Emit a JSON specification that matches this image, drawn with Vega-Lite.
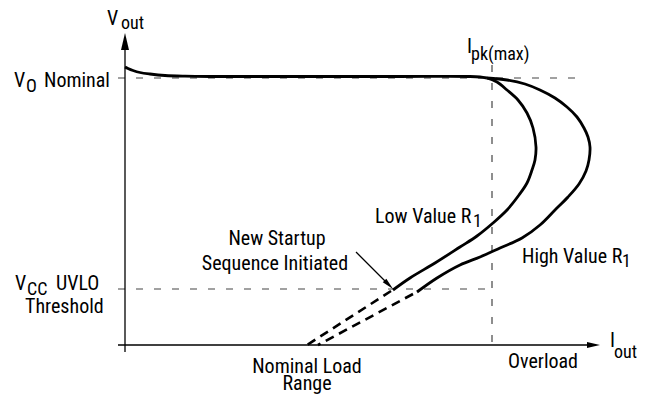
{
  "$schema": "https://vega.github.io/schema/vega-lite/v6.json",
  "width": 647,
  "height": 396,
  "padding": 0,
  "autosize": {"type": "fit", "contains": "padding"},
  "config": {"view": {"stroke": null}, "text": {"font": "Roboto Condensed, Liberation Sans, sans-serif", "color": "#000000"}},
  "datasets": {
    "lines": [
      {"series": "ref_vo", "i": 0, "I": -7, "V": 267},
      {"series": "ref_vo", "i": 1, "I": 460, "V": 267},
      {"series": "ref_uvlo", "i": 0, "I": -7, "V": 56},
      {"series": "ref_uvlo", "i": 1, "I": 370, "V": 56},
      {"series": "ref_ipk", "i": 0, "I": 367, "V": 280},
      {"series": "ref_ipk", "i": 1, "I": 367, "V": -7},
      {"series": "axis_x", "i": 0, "I": -7, "V": 0},
      {"series": "axis_x", "i": 1, "I": 465, "V": 0},
      {"series": "axis_y", "i": 0, "I": 0, "V": -7},
      {"series": "axis_y", "i": 1, "I": 0, "V": 296},
      {"series": "pointer", "i": 0, "I": 231, "V": 93},
      {"series": "pointer", "i": 1, "I": 264, "V": 60},
      {"series": "main", "i": 0, "I": 0, "V": 278},
      {"series": "main", "i": 1, "I": 3, "V": 276.5},
      {"series": "main", "i": 2, "I": 8, "V": 274.5},
      {"series": "main", "i": 3, "I": 15, "V": 272.5},
      {"series": "main", "i": 4, "I": 25, "V": 271},
      {"series": "main", "i": 5, "I": 40, "V": 269.5},
      {"series": "main", "i": 6, "I": 60, "V": 268.8},
      {"series": "main", "i": 7, "I": 85, "V": 268.5},
      {"series": "main", "i": 8, "I": 175, "V": 268.5},
      {"series": "main", "i": 9, "I": 275, "V": 268.5},
      {"series": "main", "i": 10, "I": 345, "V": 268.5},
      {"series": "main", "i": 11, "I": 355, "V": 268},
      {"series": "main", "i": 12, "I": 362, "V": 267},
      {"series": "low", "i": 0, "I": 362, "V": 267},
      {"series": "low", "i": 1, "I": 372, "V": 263},
      {"series": "low", "i": 2, "I": 382, "V": 255},
      {"series": "low", "i": 3, "I": 393, "V": 245},
      {"series": "low", "i": 4, "I": 402, "V": 232},
      {"series": "low", "i": 5, "I": 408, "V": 217},
      {"series": "low", "i": 6, "I": 411, "V": 198},
      {"series": "low", "i": 7, "I": 410, "V": 185},
      {"series": "low", "i": 8, "I": 407, "V": 175},
      {"series": "low", "i": 9, "I": 402, "V": 162},
      {"series": "low", "i": 10, "I": 394, "V": 150},
      {"series": "low", "i": 11, "I": 382, "V": 135},
      {"series": "low", "i": 12, "I": 368, "V": 122},
      {"series": "low", "i": 13, "I": 352, "V": 109},
      {"series": "low", "i": 14, "I": 335, "V": 98},
      {"series": "low", "i": 15, "I": 310, "V": 82},
      {"series": "low", "i": 16, "I": 285, "V": 67},
      {"series": "low", "i": 17, "I": 268, "V": 55},
      {"series": "high", "i": 0, "I": 362, "V": 267},
      {"series": "high", "i": 1, "I": 382, "V": 265},
      {"series": "high", "i": 2, "I": 400, "V": 261},
      {"series": "high", "i": 3, "I": 415, "V": 255},
      {"series": "high", "i": 4, "I": 430, "V": 247},
      {"series": "high", "i": 5, "I": 442, "V": 238},
      {"series": "high", "i": 6, "I": 452, "V": 228},
      {"series": "high", "i": 7, "I": 459, "V": 217},
      {"series": "high", "i": 8, "I": 463, "V": 208},
      {"series": "high", "i": 9, "I": 465, "V": 198},
      {"series": "high", "i": 10, "I": 464, "V": 185},
      {"series": "high", "i": 11, "I": 461, "V": 174},
      {"series": "high", "i": 12, "I": 454, "V": 161},
      {"series": "high", "i": 13, "I": 443, "V": 148},
      {"series": "high", "i": 14, "I": 430, "V": 135},
      {"series": "high", "i": 15, "I": 415, "V": 120},
      {"series": "high", "i": 16, "I": 397, "V": 107},
      {"series": "high", "i": 17, "I": 375, "V": 97},
      {"series": "high", "i": 18, "I": 355, "V": 88},
      {"series": "high", "i": 19, "I": 335, "V": 80},
      {"series": "high", "i": 20, "I": 312, "V": 67},
      {"series": "high", "i": 21, "I": 292, "V": 53},
      {"series": "ext_low", "i": 0, "I": 266, "V": 54},
      {"series": "ext_low", "i": 1, "I": 182, "V": 0},
      {"series": "ext_high", "i": 0, "I": 288, "V": 51},
      {"series": "ext_high", "i": 1, "I": 193, "V": 0}
    ],
    "arrows": [
      {"arrow": "y_axis", "I": 0, "V": 303.5},
      {"arrow": "x_axis", "I": 468.5, "V": 0},
      {"arrow": "pointer", "I": 263.8, "V": 60.2}
    ],
    "labels": [
      {"text": "V", "kind": "main", "I": -18, "V": 320},
      {"text": "out", "kind": "sub", "I": -4, "V": 316},
      {"text": "V", "kind": "main", "I": -111, "V": 258},
      {"text": "O", "kind": "sub", "I": -99, "V": 253},
      {"text": "Nominal", "kind": "main", "I": -81, "V": 258},
      {"text": "V", "kind": "main", "I": -110, "V": 55},
      {"text": "CC", "kind": "sub", "I": -98, "V": 50},
      {"text": "UVLO", "kind": "main", "I": -69, "V": 55},
      {"text": "Threshold", "kind": "main", "I": -100, "V": 32},
      {"text": "I", "kind": "main", "I": 342, "V": 292},
      {"text": "pk(max)", "kind": "sub", "I": 346, "V": 285},
      {"text": "Low Value R", "kind": "main", "I": 250, "V": 122},
      {"text": "1", "kind": "sub", "I": 348, "V": 118},
      {"text": "High Value R", "kind": "main", "I": 397, "V": 82},
      {"text": "1", "kind": "sub", "I": 497, "V": 78},
      {"text": "New Startup", "kind": "center", "I": 152, "V": 100},
      {"text": "Sequence Initiated", "kind": "center", "I": 150, "V": 75},
      {"text": "Nominal Load", "kind": "center", "I": 182, "V": -28},
      {"text": "Range", "kind": "center", "I": 182, "V": -45},
      {"text": "Overload", "kind": "center", "I": 418, "V": -23},
      {"text": "I", "kind": "main", "I": 485, "V": -2},
      {"text": "out", "kind": "sub", "I": 489, "V": -13}
    ]
  },
  "encoding": {
    "x": {"field": "I", "type": "quantitative", "scale": {"domain": [-125, 522], "nice": false, "zero": false}, "axis": null},
    "y": {"field": "V", "type": "quantitative", "scale": {"domain": [-51, 345], "nice": false, "zero": false}, "axis": null}
  },
  "layer": [
    {
      "data": {"name": "lines"},
      "transform": [{"filter": {"field": "series", "oneOf": ["ref_vo", "ref_uvlo", "ref_ipk"]}}],
      "mark": {"type": "line", "color": "#444444", "strokeWidth": 1.2, "strokeDash": [7, 11]},
      "encoding": {"detail": {"field": "series"}, "order": {"field": "i"}}
    },
    {
      "data": {"name": "lines"},
      "transform": [{"filter": {"field": "series", "oneOf": ["axis_x", "axis_y", "pointer"]}}],
      "mark": {"type": "line", "color": "#000000", "strokeWidth": 1.3},
      "encoding": {"detail": {"field": "series"}, "order": {"field": "i"}}
    },
    {
      "data": {"name": "lines"},
      "transform": [{"filter": {"field": "series", "oneOf": ["main", "low", "high"]}}],
      "mark": {"type": "line", "color": "#000000", "strokeWidth": 2.8, "interpolate": "catmull-rom"},
      "encoding": {"detail": {"field": "series"}, "order": {"field": "i"}}
    },
    {
      "data": {"name": "lines"},
      "transform": [{"filter": {"field": "series", "oneOf": ["ext_low", "ext_high"]}}],
      "mark": {"type": "line", "color": "#000000", "strokeWidth": 2.6, "strokeDash": [9, 6]},
      "encoding": {"detail": {"field": "series"}, "order": {"field": "i"}}
    },
    {
      "data": {"name": "arrows"},
      "transform": [{"filter": "datum.arrow == 'y_axis'"}],
      "mark": {"type": "point", "shape": "M0,-1L0.47,1L-0.47,1Z", "size": 289, "filled": true, "color": "#000000", "opacity": 1, "strokeWidth": 0}
    },
    {
      "data": {"name": "arrows"},
      "transform": [{"filter": "datum.arrow == 'x_axis'"}],
      "mark": {"type": "point", "shape": "M0,-1L0.45,1L-0.45,1Z", "angle": 90, "size": 169, "filled": true, "color": "#000000", "opacity": 1, "strokeWidth": 0}
    },
    {
      "data": {"name": "arrows"},
      "transform": [{"filter": "datum.arrow == 'pointer'"}],
      "mark": {"type": "point", "shape": "M0,-1L0.42,1L-0.42,1Z", "angle": 135, "size": 144, "filled": true, "color": "#000000", "opacity": 1, "strokeWidth": 0}
    },
    {
      "data": {"name": "labels"},
      "transform": [{"filter": "datum.kind == 'main'"}],
      "mark": {"type": "text", "align": "left", "baseline": "alphabetic", "fontSize": 20},
      "encoding": {"text": {"field": "text"}}
    },
    {
      "data": {"name": "labels"},
      "transform": [{"filter": "datum.kind == 'sub'"}],
      "mark": {"type": "text", "align": "left", "baseline": "alphabetic", "fontSize": 18},
      "encoding": {"text": {"field": "text"}}
    },
    {
      "data": {"name": "labels"},
      "transform": [{"filter": "datum.kind == 'center'"}],
      "mark": {"type": "text", "align": "center", "baseline": "alphabetic", "fontSize": 20},
      "encoding": {"text": {"field": "text"}}
    }
  ]
}
